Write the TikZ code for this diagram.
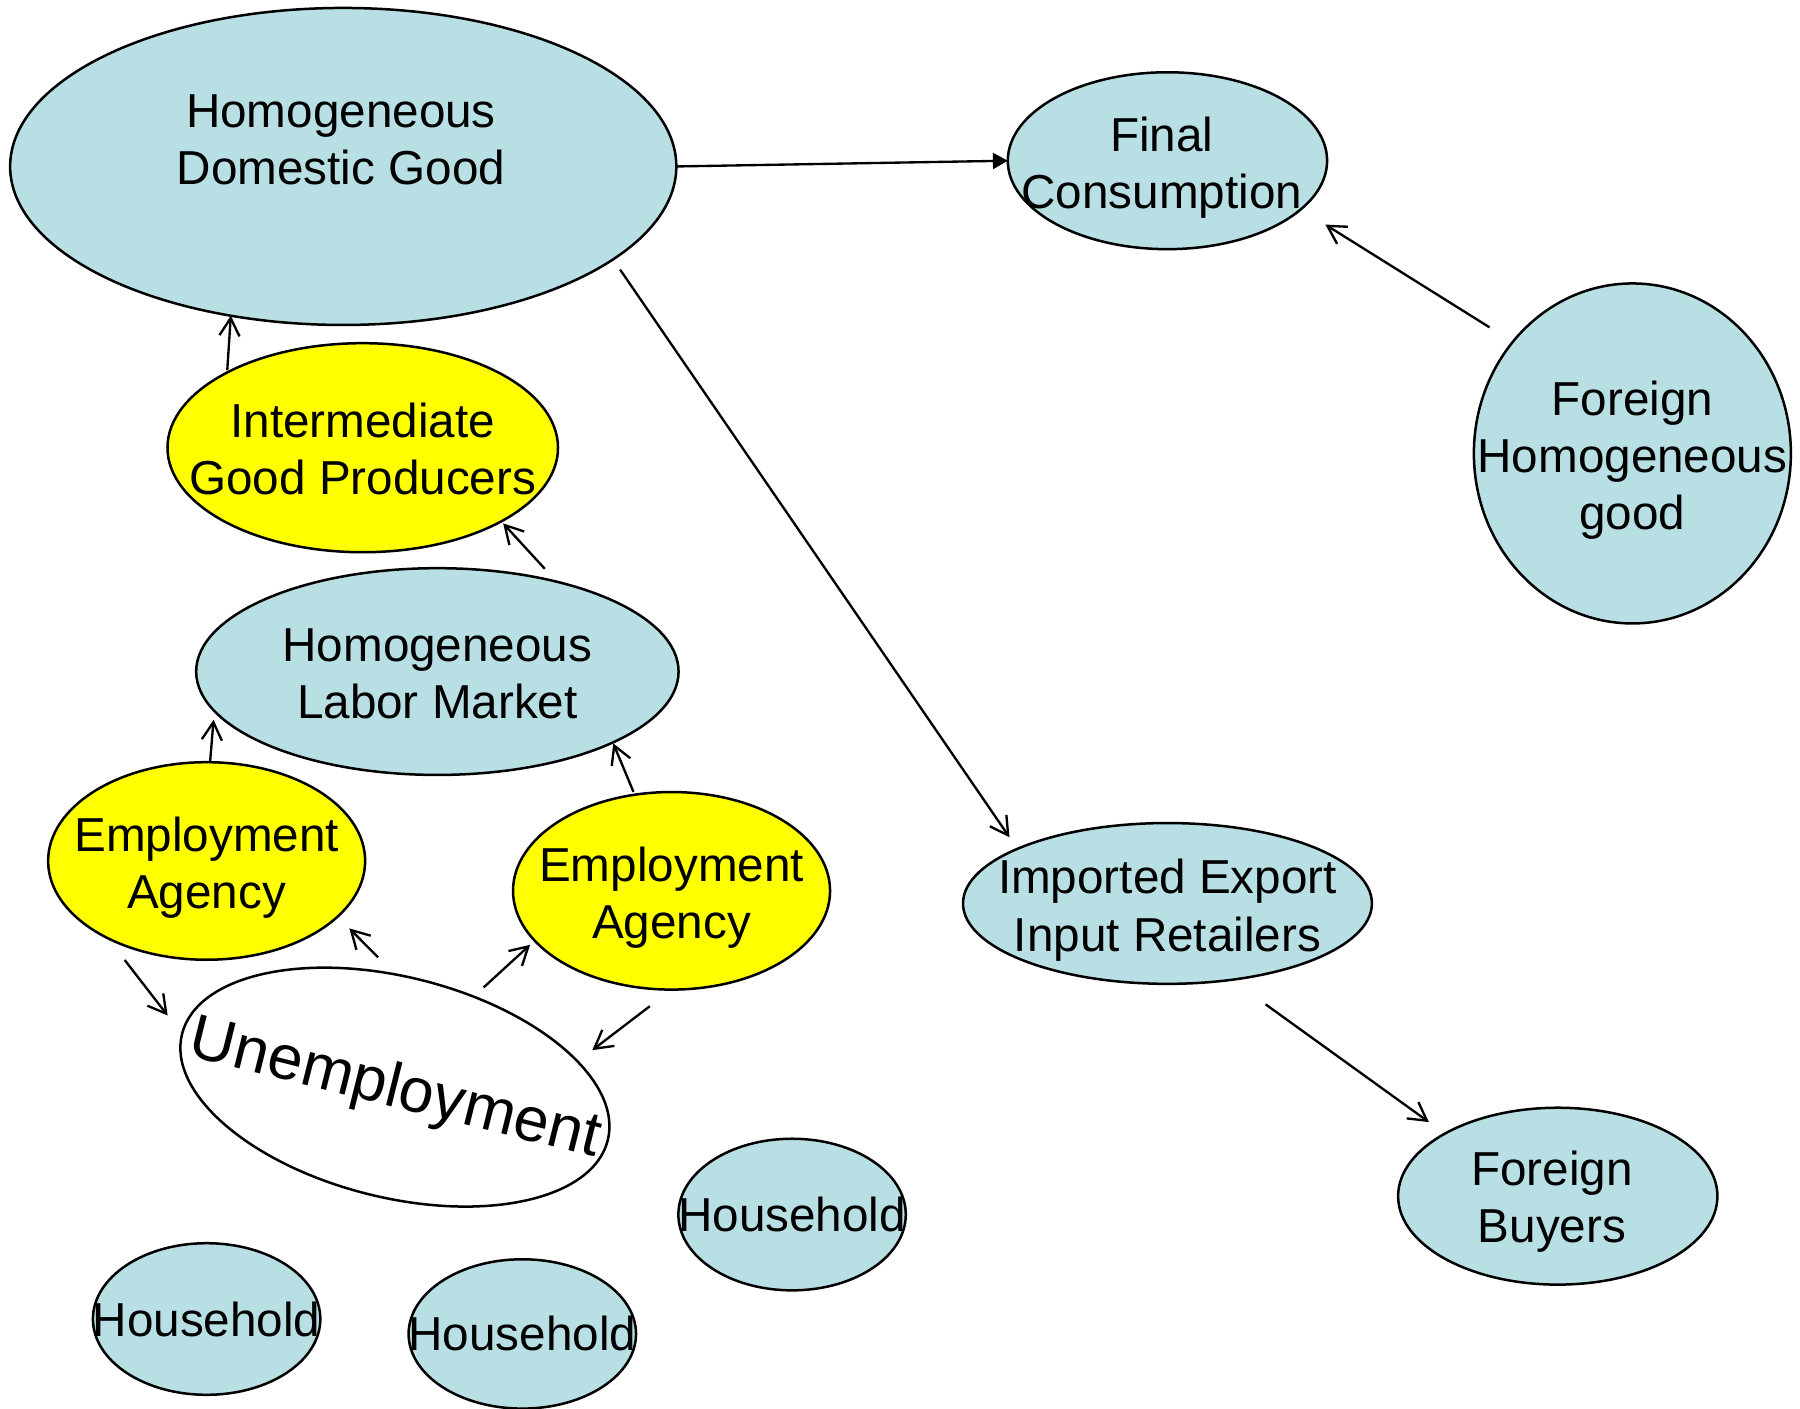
\documentclass[tikz,border=0pt]{standalone}
\usepackage{fontspec}
\setmainfont{Liberation Sans}
\usetikzlibrary{shapes.geometric,arrows.meta}
\definecolor{lblue}{RGB}{184,223,228}
\definecolor{yel}{RGB}{255,255,0}
\newcommand\myfs{\fontsize{11.8}{14.2}\selectfont}
\newcommand\myfsbig{\fontsize{15.5}{18}\selectfont}
\tikzset{
  ell/.style={ellipse, draw, line width=0.62pt, inner sep=0pt, outer sep=0pt},
  bl/.style={ell, fill=lblue},
  yl/.style={ell, fill=yel},
  wl/.style={ell, fill=white},
  txt/.style={inner sep=0pt, outer sep=0pt, align=center, font=\myfs},
  arr/.style={line width=0.58pt, -{Straight Barb[length=1.55mm, width=1.75mm, line width=0.58pt]}},
  arrf/.style={line width=0.58pt, -{Triangle[length=1.3mm, width=1.4mm]}}
}
\begin{document}
\begin{tikzpicture}[x=0.01cm, y=-0.01cm]
\useasboundingbox (0,0) rectangle (1568,1227);

\node[bl, minimum width=5.80cm, minimum height=2.76cm] (hdg) at (299,145) {};
\node[bl, minimum width=2.78cm, minimum height=1.54cm] (fc) at (1017,140) {};
\node[bl, minimum width=2.76cm, minimum height=2.96cm] (fhg) at (1422,395) {};
\node[yl, minimum width=3.40cm, minimum height=1.82cm] (igp) at (316,390) {};
\node[bl, minimum width=4.20cm, minimum height=1.80cm] (hlm) at (381,585) {};
\node[yl, minimum width=2.76cm, minimum height=1.72cm] (eal) at (180,750) {};
\node[yl, minimum width=2.76cm, minimum height=1.72cm] (ear) at (585,776) {};
\node[wl, rotate=-14, minimum width=3.82cm, minimum height=1.92cm] (un) at (344,947) {};
\node[bl, minimum width=3.56cm, minimum height=1.40cm] (iei) at (1017,787) {};
\node[bl, minimum width=2.78cm, minimum height=1.54cm] (fb) at (1357,1042) {};
\node[bl, minimum width=1.98cm, minimum height=1.32cm] (hh1) at (690,1058) {};
\node[bl, minimum width=1.98cm, minimum height=1.32cm] (hh2) at (180,1149) {};
\node[bl, minimum width=1.98cm, minimum height=1.30cm] (hh3) at (455,1162) {};

\node[txt] (hdgt) at (297,122) {Homogeneous\\Domestic Good};
\node[txt] (fct) at ([xshift=-0.05cm, yshift=-0.06cm]fc.center) {Final\\Consumption};
\node[txt] (fhgt) at ([yshift=-0.06cm]fhg.center) {Foreign\\Homogeneous\\good};
\node[txt] (igpt) at ([yshift=-0.01cm]igp.center) {Intermediate\\Good Producers};
\node[txt] (hlmt) at ([yshift=-0.02cm]hlm.center) {Homogeneous\\Labor Market};
\node[txt] (ealt) at ([yshift=-0.06cm]eal.center) {Employment\\Agency};
\node[txt] (eart) at ([yshift=-0.06cm]ear.center) {Employment\\Agency};
\node[txt, rotate=-14, font=\myfsbig] (unt) at ([yshift=-0.03cm]un.center) {Unemployment};
\node[txt] (ieit) at ([yshift=-0.06cm]iei.center) {Imported Export\\Input Retailers};
\node[txt] (fbt) at ([xshift=-0.05cm, yshift=-0.05cm]fb.center) {Foreign\\Buyers};
\node[txt] (hh1t) at (hh1.center) {Household};
\node[txt] (hh2t) at (hh2.center) {Household};
\node[txt] (hh3t) at (hh3.center) {Household};

\draw[arrf] (hdg.east) -- (fc.west);
\draw[arr, shorten <=0.238cm, shorten >=0.251cm] (fhg.137.45) -- (fc.-20.2);
\draw[arr, shorten <=0.109cm, shorten >=0.122cm] (hdg.-19.03) -- (iei.160.45);
\draw[arr, shorten <=0.366cm, shorten >=0.172cm] (iei.-50.8) -- (fb.151.4);
\draw[arr, shorten <=0.02cm] (igp.151.4) -- (hdg.-127.4);
\draw[arr, shorten <=0.152cm, shorten >=0.024cm] (hlm.37.5) -- (igp.-28.1);
\draw[arr, shorten >=0.078cm] (eal.88.7) -- (hlm.-170.0);
\draw[arr, shorten <=0.027cm, shorten >=0.009cm] (ear.111.4) -- (hlm.-22.9);
\draw[arr, shorten <=0.24cm, shorten >=0.204cm] (eal.-142.6) -- (un.180);
\draw[arr, shorten <=0.209cm, shorten >=0.145cm] (un.104.1) -- (eal.-23.2);
\draw[arr, shorten <=0.119cm, shorten >=0.054cm] (un.63.0) -- (ear.-160.6);
\draw[arr, shorten <=0.238cm, shorten >=0.162cm] (ear.-90.5) -- (un.22.87);
\end{tikzpicture}
\end{document}
